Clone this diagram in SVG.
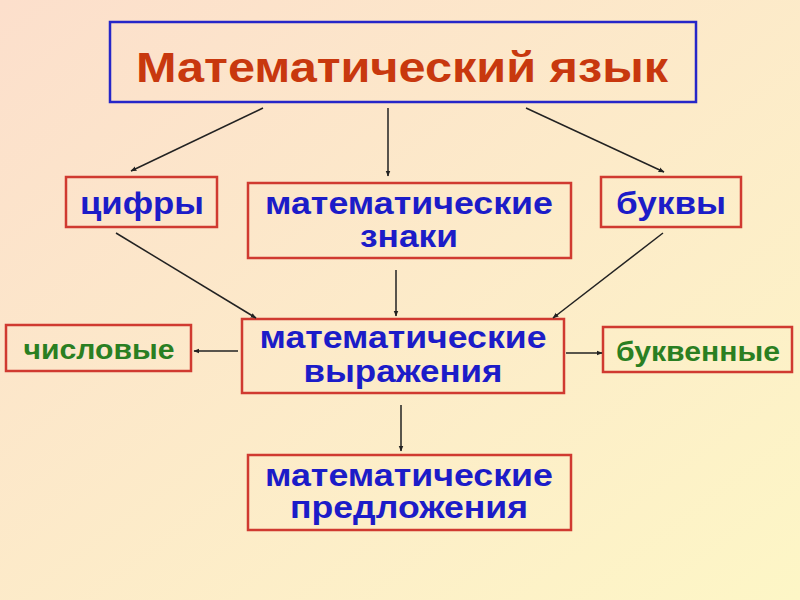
<svg xmlns="http://www.w3.org/2000/svg" width="800" height="600" viewBox="0 0 800 600">
<defs>
<linearGradient id="bg" x1="0" y1="0" x2="1" y2="1">
<stop offset="0" stop-color="#fcdfcc"/>
<stop offset="1" stop-color="#fdf6c6"/>
</linearGradient>
<marker id="ah" viewBox="0 0 10 10" refX="9" refY="5" markerWidth="6" markerHeight="6" orient="auto" markerUnits="userSpaceOnUse">
<path d="M0,1 L10,5 L0,9 z" fill="#222"/>
</marker>
</defs>
<style>
.box{fill:none;stroke:#d03a30;stroke-width:2.5}
.t{font-family:"Liberation Sans",Arial,sans-serif;font-weight:bold;text-anchor:middle}
.blue{fill:#1c1cc8}
.green{fill:#2a7f22}
.c{stroke:#222;stroke-width:1.5;fill:none;marker-end:url(#ah)}
</style>
<rect width="800" height="600" fill="url(#bg)"/>
<g id="title">
<rect x="110" y="22" width="586" height="80" fill="none" stroke="#2626c8" stroke-width="2.5"/>
<text class="t" x="402" y="82" font-size="43" fill="#c8380e" textLength="532" lengthAdjust="spacingAndGlyphs">Математический язык</text>
</g>
<g id="cifry">
<rect class="box" x="66" y="177" width="151" height="50"/>
<text class="t blue" x="142" y="214" font-size="32" textLength="124" lengthAdjust="spacingAndGlyphs">цифры</text>
</g>
<g id="znaki">
<rect class="box" x="248" y="183" width="323" height="75"/>
<text class="t blue" x="409" y="214" font-size="31" textLength="288" lengthAdjust="spacingAndGlyphs">математические</text>
<text class="t blue" x="409" y="247" font-size="31" textLength="98" lengthAdjust="spacingAndGlyphs">знаки</text>
</g>
<g id="bukvy">
<rect class="box" x="601" y="177" width="140" height="50"/>
<text class="t blue" x="671" y="214" font-size="32" textLength="110" lengthAdjust="spacingAndGlyphs">буквы</text>
</g>
<g id="chislovye">
<rect class="box" x="6" y="325" width="185" height="46"/>
<text class="t green" x="99" y="359" font-size="27" textLength="151" lengthAdjust="spacingAndGlyphs">числовые</text>
</g>
<g id="vyrazheniya">
<rect class="box" x="242" y="319" width="322" height="74"/>
<text class="t blue" x="403" y="348" font-size="31" textLength="287" lengthAdjust="spacingAndGlyphs">математические</text>
<text class="t blue" x="403" y="382" font-size="31" textLength="199" lengthAdjust="spacingAndGlyphs">выражения</text>
</g>
<g id="bukvennye">
<rect class="box" x="603" y="327" width="189" height="45"/>
<text class="t green" x="698" y="361" font-size="27" textLength="164" lengthAdjust="spacingAndGlyphs">буквенные</text>
</g>
<g id="predlozheniya">
<rect class="box" x="248" y="455" width="323" height="75"/>
<text class="t blue" x="409" y="486" font-size="31" textLength="288" lengthAdjust="spacingAndGlyphs">математические</text>
<text class="t blue" x="409" y="518" font-size="31" textLength="238" lengthAdjust="spacingAndGlyphs">предложения</text>
</g>
<g id="connectors">
<line class="c" x1="263" y1="108" x2="131" y2="171"/>
<line class="c" x1="388" y1="108" x2="388" y2="176"/>
<line class="c" x1="526" y1="108" x2="664" y2="172"/>
<line class="c" x1="116" y1="233" x2="256" y2="318"/>
<line class="c" x1="396" y1="270" x2="396" y2="316"/>
<line class="c" x1="663" y1="233" x2="553" y2="318"/>
<line class="c" x1="238" y1="351" x2="194" y2="351"/>
<line class="c" x1="566" y1="353" x2="602" y2="353"/>
<line class="c" x1="401" y1="405" x2="401" y2="451"/>
</g>
</svg>
